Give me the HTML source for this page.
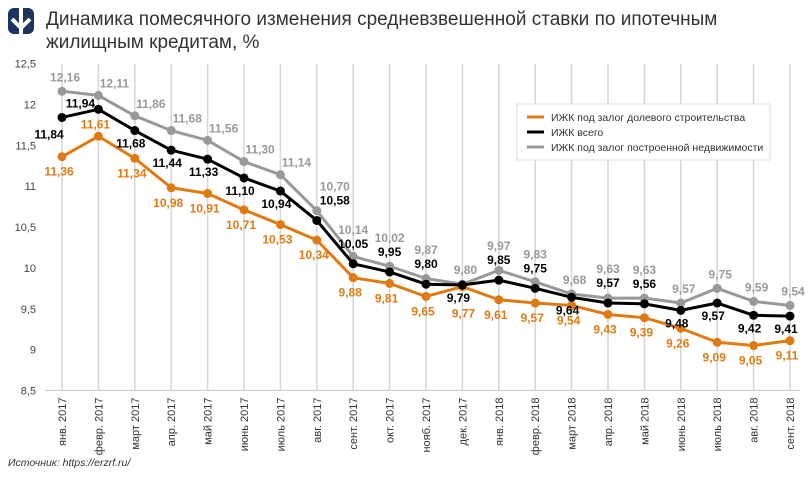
<!DOCTYPE html>
<html><head><meta charset="utf-8"><style>
body{margin:0;background:#fff;font-family:"Liberation Sans",sans-serif;}
</style></head><body>
<svg width="810" height="472" xmlns="http://www.w3.org/2000/svg" id="svg" style="font-family:'Liberation Sans',sans-serif">
<g>
<rect x="8" y="8" width="26" height="26" rx="6" fill="#1d3461"/>
<rect x="19" y="8" width="4" height="26" fill="#fff"/>
<path d="M12 19 L21 28 L30 19" stroke="#fff" stroke-width="4" fill="none"/>
</g>
<text x="46" y="25" font-size="19" fill="#333">Динамика помесячного изменения средневзвешенной ставки по ипотечным</text>
<text x="46" y="48" font-size="19" fill="#333">жилищным кредитам, %</text>
<g id="grid"></g>
<g id="lines"></g>
<g>
<rect x="517" y="104" width="253" height="56" fill="#fff" stroke="#ddd"/>
<line x1="527" y1="117" x2="544" y2="117" stroke="#e07b14" stroke-width="3"/>
<text x="551" y="121" font-size="10.5" fill="#333">ИЖК под залог долевого строительства</text>
<line x1="527" y1="132" x2="544" y2="132" stroke="#000" stroke-width="3"/>
<text x="551" y="136" font-size="10.5" fill="#333">ИЖК всего</text>
<line x1="527" y1="147" x2="544" y2="147" stroke="#999" stroke-width="3"/>
<text x="551" y="151" font-size="10.5" fill="#333">ИЖК под залог построенной недвижимости</text>
</g>
<text x="8" y="466" font-size="10.5" font-style="italic" fill="#333">Источник: https://erzrf.ru/</text>
</svg>
<script>
const months=["янв. 2017","февр. 2017","март 2017","апр. 2017","май 2017","июнь 2017","июль 2017","авг. 2017","сент. 2017","окт. 2017","нояб. 2017","дек. 2017","янв. 2018","февр. 2018","март 2018","апр. 2018","май 2018","июнь 2018","июль 2018","авг. 2018","сент. 2018"];
const yTicks=[8.5,9,9.5,10,10.5,11,11.5,12,12.5];
const shared=[11.36,11.61,11.34,10.98,10.91,10.71,10.53,10.34,9.88,9.81,9.65,9.77,9.61,9.57,9.54,9.43,9.39,9.26,9.09,9.05,9.11];
const total=[11.84,11.94,11.68,11.44,11.33,11.10,10.94,10.58,10.05,9.95,9.80,9.79,9.85,9.75,9.64,9.57,9.56,9.48,9.57,9.42,9.41];
const built=[12.16,12.11,11.86,11.68,11.56,11.30,11.14,10.70,10.14,10.02,9.87,9.80,9.97,9.83,9.68,9.63,9.63,9.57,9.75,9.59,9.54];
// label placement modes (not data values)
const totalMode=["bl","la","b","b","b","b","b","ar","a","a","a","b","a","a","b","a","a","b","b","b","b"];
const builtMode=["a","r","r","r","r","r","r","ar","s","s","s","a","s","s","a","s","s","a","a","a","a"];
const sharedMode=["b","a","b","b","b","b","b","b","b","b","b","bb","b","b","b","b","b","b","b","b","b"];
const NS="http://www.w3.org/2000/svg";
const X0=62,XS=36.4,Y0=63.5,YMAX=12.5,YMIN=8.5,YB=390.5;
const x=i=>X0+i*XS;
const y=v=>Y0+(YMAX-v)*(YB-Y0)/(YMAX-YMIN);
function mk(t,a,p){const e=document.createElementNS(NS,t);for(const k in a)e.setAttribute(k,a[k]);p.appendChild(e);return e;}
const grid=document.getElementById('grid'),lines=document.getElementById('lines');
months.forEach((m,i)=>{
 const l=mk('line',{x1:x(i),x2:x(i),y1:Y0,y2:YB,stroke:'#d6d6d6','stroke-width':1.5},grid);
 
 
 const t=mk('text',{x:0,y:0,'font-size':11,fill:'#333','text-anchor':'end',transform:`translate(${x(i)+4},${YB+7}) rotate(-90)`},grid);
 t.textContent=m;
 
 
});
const ax=mk('line',{x1:45,x2:800,y1:YB,y2:YB,stroke:'#ccc','stroke-width':1},grid);


yTicks.forEach(v=>{
 const t=mk('text',{x:36,y:y(v)+4,'font-size':11,fill:'#444','text-anchor':'end'},grid);
 t.textContent=String(v).replace('.',',');
 
 
});
function blackPos(i){
 const m=totalMode[i],yy=y(total[i]),xx=x(i);
 if(m=="bl")return[xx-13,yy+21];
 if(m=="la")return[xx-18,yy-2];
 if(m=="b")return[xx-4,yy+17];
 if(m=="ar")return[xx+18,yy-16];
 return[xx,yy-16];
}
function greyPos(i){
 const m=builtMode[i],yy=y(built[i]),xx=x(i);
 if(m=="r")return[xx+16,yy-8];
 if(m=="ar")return[xx+18,Math.min(yy-20,blackPos(i)[1]-14)];
 if(m=="s")return[xx,Math.min(yy-20,blackPos(i)[1]-14)];
 return[xx+3,yy-10];
}
function sharedPos(i){
 const m=sharedMode[i],yy=y(shared[i]),xx=x(i);
 if(m=="a")return[xx-3,yy-8];
 if(m=="bb")return[xx+1,yy+31];
 return[xx-3,yy+19];
}
function series(data,color,name,posFn){
 const p=mk('polyline',{points:data.map((v,i)=>x(i)+','+y(v)).join(' '),fill:'none',stroke:color,'stroke-width':3,'stroke-linejoin':'round'},lines);
 
 
 data.forEach((v,i)=>{
  const c=mk('circle',{cx:x(i),cy:y(v),r:4.5,fill:color},lines);
  
  
  const [lx,ly]=posFn(i);
  const t=mk('text',{x:lx,y:ly,'font-size':12,'font-weight':'bold',fill:color,'text-anchor':'middle'},lines);
  t.textContent=v.toFixed(2).replace('.',',');
  
  
 });
}
series(built,'#999999','built',greyPos);
series(shared,'#e07b14','shared',sharedPos);
series(total,'#000000','total',blackPos);
</script>
</body></html>
